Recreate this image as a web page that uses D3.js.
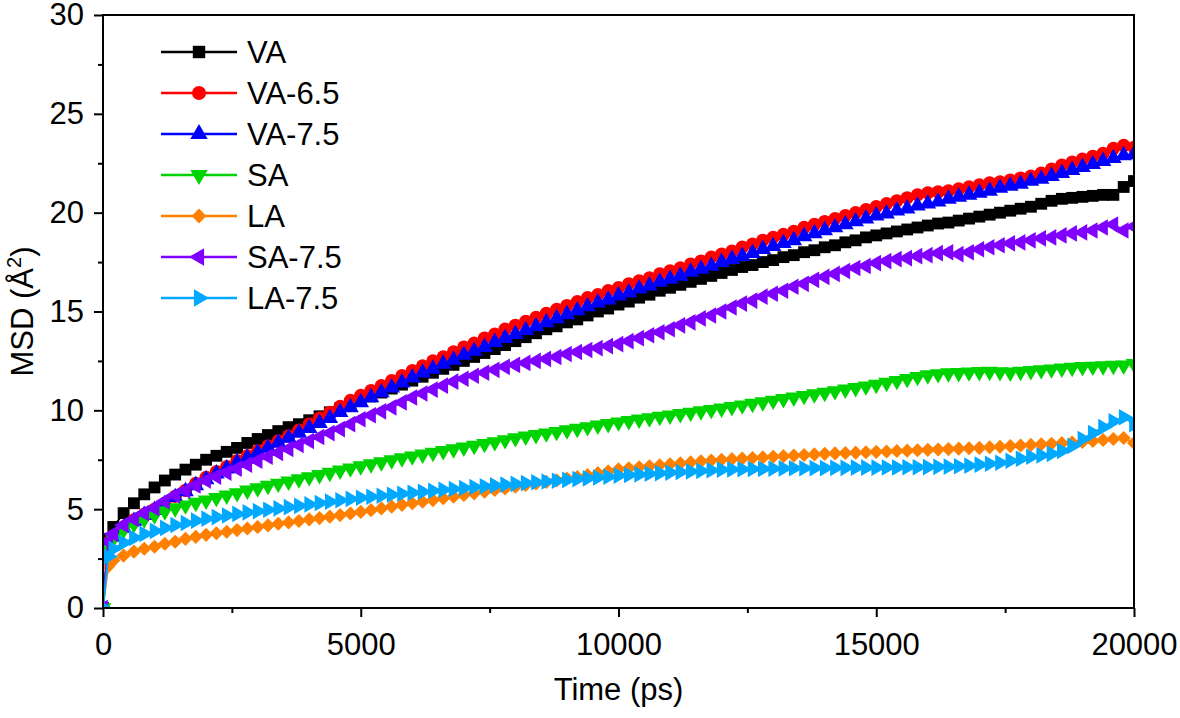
<!DOCTYPE html>
<html>
<head>
<meta charset="utf-8">
<script src="https://cdn.jsdelivr.net/npm/d3@7/dist/d3.min.js"></script>
<style>
  body { margin: 0; background: #fff; }
  text { font-family: "Liberation Sans", Arial, sans-serif; fill: #000; }
</style>
</head>
<body>
<div id="chart"></div>
<script>
// time grid (ps)
var times = [0, 100].concat(d3.range(200, 20001, 200));

var names = ['VA', 'VA-6.5', 'VA-7.5', 'SA', 'LA', 'SA-7.5', 'LA-7.5'];
var colors = ['#000000', '#ff0000', '#0000ff', '#00d400', '#ff8000', '#8000ff', '#00a8ff'];

var xTicks = [0, 5000, 10000, 15000, 20000],
    xMinor = [2500, 7500, 12500, 17500],
    yTicks = [0, 5, 10, 15, 20, 25, 30],
    yMinor = [2.5, 7.5, 12.5, 17.5, 22.5, 27.5];

// MSD values, one row = 10 points (200 ps apart)
var msdVA = [0, 3.5,
  4.1, 4.8, 5.3, 5.75, 6.1, 6.45, 6.75, 7.0, 7.25, 7.5,
  7.7, 7.9, 8.1, 8.35, 8.55, 8.75, 8.95, 9.15, 9.3, 9.5,
  9.7, 9.9, 10.1, 10.3, 10.5, 10.7, 10.9, 11.1, 11.3, 11.5,
  11.7, 11.9, 12.1, 12.3, 12.5, 12.7, 12.9, 13.1, 13.3, 13.5,
  13.7, 13.9, 14.1, 14.25, 14.45, 14.6, 14.8, 15.0, 15.15, 15.35,
  15.5, 15.7, 15.85, 16.05, 16.2, 16.35, 16.5, 16.65, 16.8, 16.95,
  17.1, 17.25, 17.35, 17.5, 17.6, 17.75, 17.85, 18.0, 18.1, 18.25,
  18.35, 18.5, 18.6, 18.75, 18.85, 18.95, 19.05, 19.15, 19.25, 19.35,
  19.45, 19.5, 19.6, 19.7, 19.8, 19.9, 20.0, 20.1, 20.2, 20.3,
  20.45, 20.6, 20.7, 20.75, 20.8, 20.85, 20.9, 20.9, 21.3, 21.6];

var msdVA65 = [0, 3.3,
  3.65, 4.1, 4.45, 4.75, 5.0, 5.3, 5.65, 5.95, 6.3, 6.6,
  6.9, 7.15, 7.45, 7.7, 7.95, 8.2, 8.45, 8.7, 9.0, 9.3,
  9.6, 9.9, 10.2, 10.5, 10.75, 11.0, 11.25, 11.5, 11.75, 12.0,
  12.25, 12.5, 12.7, 12.95, 13.2, 13.4, 13.65, 13.85, 14.1, 14.3,
  14.5, 14.7, 14.9, 15.1, 15.3, 15.5, 15.7, 15.85, 16.05, 16.2,
  16.4, 16.55, 16.7, 16.9, 17.05, 17.2, 17.4, 17.55, 17.75, 17.9,
  18.05, 18.25, 18.4, 18.6, 18.75, 18.9, 19.05, 19.25, 19.4, 19.55,
  19.7, 19.85, 20.0, 20.15, 20.3, 20.45, 20.6, 20.75, 20.9, 21.0,
  21.05, 21.1, 21.2, 21.3, 21.4, 21.5, 21.55, 21.65, 21.75, 21.85,
  22.0, 22.2, 22.4, 22.55, 22.7, 22.85, 23.0, 23.25, 23.4, 23.3];

var msdVA75 = [0, 3.3,
  3.6, 4.05, 4.4, 4.7, 4.95, 5.25, 5.6, 5.9, 6.2, 6.5,
  6.8, 7.05, 7.35, 7.6, 7.85, 8.1, 8.35, 8.6, 8.85, 9.1,
  9.35, 9.6, 9.9, 10.15, 10.4, 10.65, 10.9, 11.15, 11.4, 11.65,
  11.9, 12.1, 12.35, 12.55, 12.8, 13.0, 13.2, 13.45, 13.65, 13.85,
  14.05, 14.25, 14.45, 14.65, 14.85, 15.05, 15.25, 15.45, 15.6, 15.8,
  15.95, 16.15, 16.3, 16.5, 16.65, 16.8, 17.0, 17.15, 17.3, 17.5,
  17.65, 17.8, 17.95, 18.15, 18.3, 18.45, 18.6, 18.8, 18.95, 19.1,
  19.25, 19.4, 19.55, 19.7, 19.85, 19.95, 20.1, 20.2, 20.35, 20.45,
  20.55, 20.7, 20.8, 20.9, 21.0, 21.1, 21.25, 21.35, 21.45, 21.6,
  21.7, 21.85, 22.0, 22.15, 22.3, 22.45, 22.6, 22.75, 22.9, 22.95];

var msdSA = [0, 3.1,
  3.5, 3.95, 4.25, 4.5, 4.7, 4.9, 5.05, 5.2, 5.33, 5.45,
  5.58, 5.7, 5.82, 5.95, 6.07, 6.19, 6.3, 6.41, 6.52, 6.63,
  6.74, 6.85, 6.96, 7.07, 7.18, 7.28, 7.38, 7.48, 7.58, 7.68,
  7.77, 7.86, 7.95, 8.04, 8.13, 8.22, 8.31, 8.4, 8.5, 8.6,
  8.68, 8.76, 8.84, 8.92, 9.0, 9.08, 9.16, 9.24, 9.32, 9.4,
  9.47, 9.54, 9.61, 9.68, 9.75, 9.82, 9.89, 9.96, 10.03, 10.1,
  10.18, 10.26, 10.34, 10.42, 10.5, 10.58, 10.66, 10.74, 10.82, 10.9,
  10.98, 11.06, 11.14, 11.22, 11.3, 11.4, 11.5, 11.6, 11.7, 11.78,
  11.84, 11.88, 11.9, 11.93, 11.95, 11.96, 11.94, 11.92, 11.96, 12.0,
  12.04, 12.08, 12.12, 12.16, 12.2, 12.22, 12.24, 12.26, 12.28, 12.35];

var msdLA = [0, 2.1,
  2.4, 2.65, 2.85, 3.0, 3.1, 3.25, 3.35, 3.5, 3.6, 3.7,
  3.78, 3.86, 3.94, 4.02, 4.1, 4.18, 4.26, 4.33, 4.4, 4.48,
  4.55, 4.62, 4.7, 4.78, 4.86, 4.95, 5.04, 5.13, 5.22, 5.3,
  5.38, 5.46, 5.55, 5.63, 5.72, 5.8, 5.88, 5.97, 6.05, 6.14,
  6.22, 6.3, 6.38, 6.46, 6.55, 6.63, 6.72, 6.82, 6.92, 7.02,
  7.07, 7.12, 7.17, 7.22, 7.27, 7.32, 7.37, 7.42, 7.46, 7.5,
  7.53, 7.56, 7.59, 7.62, 7.65, 7.68, 7.71, 7.74, 7.77, 7.8,
  7.82, 7.84, 7.86, 7.88, 7.9, 7.92, 7.94, 7.96, 7.98, 8.0,
  8.02, 8.04, 8.06, 8.08, 8.1, 8.13, 8.16, 8.19, 8.22, 8.25,
  8.28, 8.31, 8.34, 8.37, 8.4, 8.45, 8.5, 8.55, 8.6, 8.35];

var msdSA75 = [0, 3.35,
  3.75, 4.2, 4.5, 4.8, 5.05, 5.4, 5.7, 5.95, 6.2, 6.45,
  6.65, 6.85, 7.05, 7.25, 7.45, 7.65, 7.85, 8.05, 8.25, 8.45,
  8.65, 8.85, 9.05, 9.3, 9.55, 9.75, 9.95, 10.15, 10.4, 10.65,
  10.85, 11.05, 11.25, 11.45, 11.6, 11.75, 11.9, 12.05, 12.2, 12.3,
  12.4, 12.5, 12.6, 12.7, 12.85, 12.95, 13.05, 13.15, 13.25, 13.35,
  13.5, 13.65, 13.8, 13.95, 14.1, 14.3, 14.45, 14.65, 14.8, 15.0,
  15.2, 15.4, 15.55, 15.75, 15.9, 16.05, 16.25, 16.4, 16.6, 16.75,
  16.9, 17.05, 17.2, 17.3, 17.45, 17.55, 17.65, 17.7, 17.8, 17.85,
  17.95, 18.0, 17.9, 18.0, 18.15, 18.25, 18.35, 18.45, 18.5, 18.6,
  18.7, 18.75, 18.85, 18.95, 19.0, 19.1, 19.25, 19.4, 19.1, 19.3];

var msdLA75 = [0, 2.6,
  3.0, 3.3, 3.55, 3.75, 3.9, 4.05, 4.2, 4.3, 4.42, 4.52,
  4.6, 4.68, 4.76, 4.84, 4.9, 4.97, 5.04, 5.1, 5.17, 5.24,
  5.31, 5.38, 5.45, 5.52, 5.58, 5.63, 5.68, 5.73, 5.78, 5.83,
  5.88, 5.93, 5.98, 6.02, 6.07, 6.12, 6.16, 6.2, 6.24, 6.28,
  6.32, 6.36, 6.4, 6.44, 6.48, 6.52, 6.56, 6.6, 6.64, 6.7,
  6.73, 6.76, 6.79, 6.82, 6.85, 6.88, 6.91, 6.94, 6.97, 7.0,
  7.01, 7.02, 7.03, 7.04, 7.05, 7.06, 7.07, 7.07, 7.08, 7.08,
  7.09, 7.09, 7.1, 7.1, 7.1, 7.11, 7.11, 7.12, 7.12, 7.13,
  7.14, 7.15, 7.17, 7.2, 7.25, 7.3, 7.35, 7.45, 7.55, 7.65,
  7.72, 7.8, 7.95, 8.2, 8.55, 8.85, 9.15, 9.45, 9.65, 9.3];

var allValues = [msdVA, msdVA65, msdVA75, msdSA, msdLA, msdSA75, msdLA75];

// marker shapes, same order as names
var shapes = [
  {type: d3.symbolSquare,   size: 140, rotate: 0},
  {type: d3.symbolCircle,   size: 140, rotate: 0},
  {type: d3.symbolTriangle, size: 120, rotate: 0},
  {type: d3.symbolTriangle, size: 120, rotate: 180},
  {type: d3.symbolSquare,   size: 100, rotate: 45},
  {type: d3.symbolTriangle, size: 120, rotate: -90},
  {type: d3.symbolTriangle, size: 120, rotate: 90}
];

var width = 1180,
    height = 718,
    margin = {top: 15, right: 46, bottom: 110, left: 103},
    innerWidth = width - margin.left - margin.right,
    innerHeight = height - margin.top - margin.bottom,
    fontSize = 31;

var xScale = d3.scaleLinear().domain([0, 20000]).range([0, innerWidth]),
    yScale = d3.scaleLinear().domain([0, 30]).range([innerHeight, 0]);

var svg = d3.select("#chart").append("svg")
    .attr("width", width)
    .attr("height", height)
  .append("g")
    .attr("transform", "translate(" + margin.left + "," + margin.top + ")");

svg.append("clipPath")
    .attr("id", "plotClip")
  .append("rect")
    .attr("width", innerWidth)
    .attr("height", innerHeight);

var line = d3.line()
    .x(function(d, i) { return xScale(times[i]); })
    .y(function(d) { return yScale(d); });

var plot = svg.append("g").attr("clip-path", "url(#plotClip)");

allValues.forEach(function(values, k) {
  var g = plot.append("g").attr("class", "series");
  var shape = shapes[k];
  var symPath = d3.symbol().type(shape.type).size(shape.size)();

  g.append("path")
    .attr("d", line(values))
    .attr("fill", "none")
    .attr("stroke", colors[k])
    .attr("stroke-width", 2);

  g.selectAll(".mk")
    .data(values).enter()
    .append("path")
      .attr("class", "mk")
      .attr("d", symPath)
      .attr("fill", colors[k])
      .attr("transform", function(d, i) {
        return "translate(" + xScale(times[i]) + "," + yScale(d) + ") rotate(" + shape.rotate + ")";
      });
});

// axes
function styleAxis(g) {
  g.select(".domain").remove();
  g.selectAll("line").attr("stroke", "#000").attr("stroke-width", 2);
  g.attr("font-family", null).attr("font-size", null);
  g.selectAll("text").style("font-size", fontSize + "px").attr("fill", "#000");
}

svg.append("g")
    .attr("transform", "translate(0," + innerHeight + ")")
    .call(d3.axisBottom(xScale).tickValues(xMinor).tickSize(5).tickFormat(""))
    .call(styleAxis)
    .selectAll("text").remove();

svg.append("g")
    .attr("transform", "translate(0," + innerHeight + ")")
    .call(d3.axisBottom(xScale).tickValues(xTicks).tickSize(9).tickFormat(d3.format("d")))
    .call(styleAxis)
    .selectAll("text")
      .attr("y", 47)
      .attr("dy", null);

svg.append("g")
    .call(d3.axisLeft(yScale).tickValues(yMinor).tickSize(5).tickFormat(""))
    .call(styleAxis)
    .selectAll("text").remove();

svg.append("g")
    .call(d3.axisLeft(yScale).tickValues(yTicks).tickSize(9).tickPadding(10).tickFormat(d3.format("d")))
    .call(styleAxis);

// frame
svg.append("rect")
    .attr("width", innerWidth)
    .attr("height", innerHeight)
    .attr("fill", "none")
    .attr("stroke", "#000")
    .attr("stroke-width", 2);

// axis titles
svg.append("text")
    .attr("x", xScale(10000))
    .attr("y", 685)
    .attr("text-anchor", "middle")
    .style("font-size", fontSize + "px")
    .text("Time (ps)");

var yTitle = svg.append("text")
    .attr("transform", "translate(-70," + (innerHeight / 2) + ") rotate(-90)")
    .attr("text-anchor", "middle")
    .style("font-size", fontSize + "px");
yTitle.append("tspan").text("MSD (Å");
yTitle.append("tspan").attr("dy", -12).style("font-size", "20px").text("2");
yTitle.append("tspan").attr("dy", 12).text(")");

// legend
var legend = svg.append("g").attr("transform", "translate(58,37)");
names.forEach(function(name, k) {
  var row = legend.append("g").attr("transform", "translate(0," + (k * 41) + ")");
  var shape = shapes[k];
  row.append("line")
    .attr("x1", 0).attr("x2", 76)
    .attr("stroke", colors[k])
    .attr("stroke-width", 2.5);
  row.append("path")
    .attr("d", d3.symbol().type(shape.type).size(shape.size * 1.1)())
    .attr("fill", colors[k])
    .attr("transform", "translate(38,0) rotate(" + shape.rotate + ")");
  row.append("text")
    .attr("x", 86)
    .attr("y", 11)
    .style("font-size", fontSize + "px")
    .text(name);
});
</script>
</body>
</html>
